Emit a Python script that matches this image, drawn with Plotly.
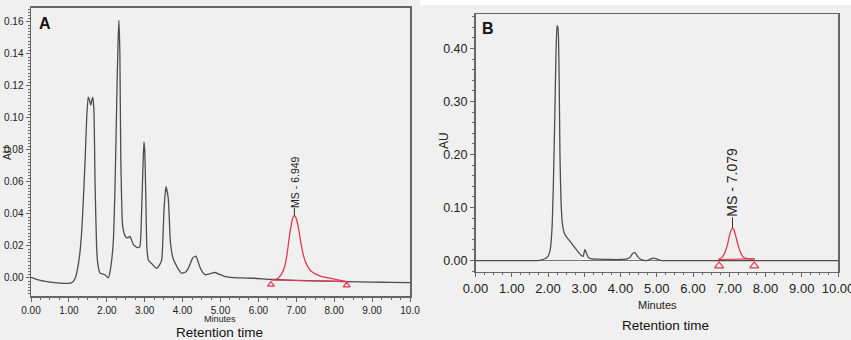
import plotly.graph_objects as go

W, H = 851, 340

# ---------------- Panel A data ----------------
a_time = [0.0, 0.25, 0.5, 0.75, 1.0, 1.1, 1.17, 1.23, 1.29, 1.34,
          1.38, 1.43, 1.47, 1.51, 1.545, 1.575, 1.605, 1.63, 1.66, 1.69,
          1.73, 1.76, 1.82, 1.95, 2.04, 2.1, 2.17, 2.22, 2.27, 2.3,
          2.32, 2.345, 2.37, 2.42, 2.49, 2.55, 2.61, 2.7, 2.8, 2.87,
          2.92, 2.96, 2.98, 3.0, 3.03, 3.06, 3.1, 3.2, 3.31, 3.4,
          3.45, 3.51, 3.56, 3.62, 3.68, 3.75, 3.8, 3.9, 3.97, 4.07,
          4.15, 4.27, 4.35, 4.45, 4.53, 4.6, 4.7, 4.77, 4.86, 4.99,
          5.1, 5.25, 5.6, 5.87, 6.35, 7.0, 7.5, 8.33, 9.0, 9.5,
          10.0]
a_au = [0.0004, -0.0016, -0.0026, -0.0032, -0.0034, -0.0025, 0.0, 0.006, 0.0157, 0.03,
        0.048, 0.075, 0.1, 0.113, 0.111, 0.108, 0.111, 0.113, 0.105, 0.06,
        0.02, 0.0094, 0.003, 0.002, 0.0, 0.006, 0.022, 0.06, 0.12, 0.15,
        0.161, 0.14, 0.074, 0.032, 0.026, 0.025, 0.026, 0.021, 0.019, 0.0196,
        0.043, 0.074, 0.085, 0.08, 0.05, 0.018, 0.011, 0.0085, 0.006, 0.0085,
        0.0115, 0.043, 0.057, 0.05, 0.022, 0.012, 0.0094, 0.005, 0.003, 0.0035,
        0.006, 0.0126, 0.0136, 0.0072, 0.0035, 0.002, 0.0025, 0.003, 0.0034, 0.002,
        0.001, 0.0004, 0.0, -0.0002, -0.001, -0.0015, -0.0018, -0.0023, -0.0026, -0.0028,
        -0.003]

a_ms_time = [6.35, 6.5, 6.6, 6.68, 6.75, 6.83, 6.9, 6.95, 7.0, 7.06,
             7.12, 7.2, 7.28, 7.38, 7.5, 7.65, 7.85, 8.1, 8.33]
a_ms_au = [-0.0012, -0.0005, 0.002, 0.006, 0.014, 0.028, 0.037, 0.039, 0.037, 0.031,
           0.022, 0.013, 0.008, 0.0045, 0.0025, 0.001, 0.0, -0.0012, -0.0023]
a_base_time = [6.35, 8.33]
a_base_au = [-0.0013, -0.0023]
a_mark_time = [6.33, 8.33]
a_mark_au = [-0.0042, -0.0046]
a_peak = (6.95, 0.039, "MS - 6.949")

a_xticks = [0, 1, 2, 3, 4, 5, 6, 7, 8, 9, 10]
a_xlabels = ["0.00", "1.00", "2.00", "3.00", "4.00", "5.00", "6.00", "7.00", "8.00", "9.00", "10.0"]
a_yticks = [0.0, 0.02, 0.04, 0.06, 0.08, 0.10, 0.12, 0.14, 0.16]
a_ylabels = ["0.00", "0.02", "0.04", "0.06", "0.08", "0.10", "0.12", "0.14", "0.16"]

# ---------------- Panel B data ----------------
b_time = [0.0, 1.0, 1.6, 1.8, 1.9, 2.0, 2.06, 2.11, 2.15, 2.19,
          2.22, 2.25, 2.27, 2.29, 2.31, 2.33, 2.36, 2.4, 2.46, 2.53,
          2.6, 2.7, 2.79, 2.87, 2.93, 2.97, 3.02, 3.06, 3.11, 3.2,
          3.34, 3.7, 4.0, 4.18, 4.26, 4.33, 4.4, 4.47, 4.54, 4.63,
          4.72, 4.8, 4.9, 5.0, 5.13, 5.5, 6.0, 7.0, 8.0, 9.0,
          10.0]
b_au = [0.0, 0.0, 0.0, 0.001, 0.003, 0.008, 0.02, 0.06, 0.15, 0.28,
        0.39, 0.443, 0.44, 0.42, 0.33, 0.2, 0.11, 0.068, 0.05, 0.043,
        0.037, 0.028, 0.02, 0.013, 0.009, 0.008, 0.021, 0.014, 0.006, 0.003,
        0.0026, 0.002, 0.002, 0.003, 0.006, 0.013, 0.015, 0.008, 0.003, 0.001,
        0.0, 0.002, 0.0045, 0.003, 0.0, 0.0, 0.0, 0.0, 0.0, 0.0,
        0.0]

b_ms_time = [6.7, 6.8, 6.88, 6.95, 7.0, 7.05, 7.09, 7.13, 7.18, 7.24,
             7.3, 7.38, 7.45, 7.55, 7.7]
b_ms_au = [0.002, 0.006, 0.015, 0.03, 0.045, 0.057, 0.061, 0.058, 0.046, 0.03,
           0.017, 0.007, 0.004, 0.003, 0.003]
b_base_time = [6.7, 7.7]
b_base_au = [0.002, 0.003]
b_mark_time = [6.72, 7.69]
b_mark_au = [-0.010, -0.010]
b_peak = (7.09, 0.061, "MS - 7.079")

b_xticks = [0, 1, 2, 3, 4, 5, 6, 7, 8, 9, 10]
b_xlabels = ["0.00", "1.00", "2.00", "3.00", "4.00", "5.00", "6.00", "7.00", "8.00", "9.00", "10.00"]
b_yticks = [0.0, 0.1, 0.2, 0.3, 0.4]
b_ylabels = ["0.00", "0.10", "0.20", "0.30", "0.40"]

# ---------------- styles ----------------
GRAY = "#4d4d4d"
RED = "#e2384f"
FRAME = "#666666"
BG = "#f0f0f0"
TXT = "#222222"
NARROW = "Liberation Sans Narrow, Arial Narrow, Liberation Sans, Arial, sans-serif"
SANS = "Liberation Sans, Arial, sans-serif"


def px(x):
    return x / W


def py(y):
    return 1 - y / H


fig = go.Figure()

for xa, ya, t, v, mt, mv, bt, bv, kt, kv, msize in [
    ("x", "y", a_time, a_au, a_ms_time, a_ms_au, a_base_time, a_base_au, a_mark_time, a_mark_au, 6),
    ("x2", "y2", b_time, b_au, b_ms_time, b_ms_au, b_base_time, b_base_au, b_mark_time, b_mark_au, 8),
]:
    fig.add_trace(go.Scatter(x=t, y=v, mode="lines", xaxis=xa, yaxis=ya,
                             line=dict(color=GRAY, width=1.3, shape="spline", smoothing=0.5),
                             hoverinfo="skip", showlegend=False))
    fig.add_trace(go.Scatter(x=bt, y=bv, mode="lines", xaxis=xa, yaxis=ya,
                             line=dict(color=RED, width=1.2), hoverinfo="skip", showlegend=False))
    fig.add_trace(go.Scatter(x=mt, y=mv, mode="lines", xaxis=xa, yaxis=ya,
                             line=dict(color=RED, width=1.3, shape="spline", smoothing=0.5),
                             hoverinfo="skip", showlegend=False))
    fig.add_trace(go.Scatter(x=kt, y=kv, mode="markers", xaxis=xa, yaxis=ya,
                             marker=dict(symbol="triangle-up-open", size=msize,
                                         color=RED, line=dict(color=RED, width=1.2)),
                             hoverinfo="skip", showlegend=False))

common_axis = dict(showline=True, mirror=True, linecolor=FRAME, linewidth=1.5,
                   showgrid=False, zeroline=False, ticks="outside", automargin=False,
                   tickcolor=FRAME, ticklen=4, tickwidth=1, ticklabeloverflow="allow")

fig.update_layout(
    template="none",
    width=W, height=H,
    margin=dict(l=0, r=0, t=0, b=0, pad=0),
    paper_bgcolor=BG, plot_bgcolor=BG,
    showlegend=False,
    xaxis=dict(**common_axis, domain=[px(31), px(410)], range=[0, 10], anchor="y",
               tickmode="array", tickvals=a_xticks, ticktext=a_xlabels,
               tickfont=dict(family=NARROW, size=10, color=TXT),
               minor=dict(ticks="outside", ticklen=2, dtick=0.25, tick0=0, tickcolor=FRAME)),
    yaxis=dict(**common_axis, domain=[py(296), py(7.5)], range=[-0.0113, 0.169], anchor="x",
               tickmode="array", tickvals=a_yticks, ticktext=a_ylabels,
               tickfont=dict(family=NARROW, size=10, color=TXT),
               minor=dict(ticks="outside", ticklen=2, dtick=0.002, tick0=0, tickcolor=FRAME)),
    xaxis2=dict(**common_axis, domain=[px(475.5), px(838)], range=[0, 10], anchor="y2",
                tickmode="array", tickvals=b_xticks, ticktext=b_xlabels,
                tickfont=dict(family=NARROW, size=13, color=TXT),
                minor=dict(ticks="outside", ticklen=2, dtick=0.25, tick0=0, tickcolor=FRAME)),
    yaxis2=dict(**{**common_axis, "zeroline": True}, zerolinecolor="#777777", zerolinewidth=1.5,
                domain=[py(271.7), py(14)], range=[-0.021, 0.465], anchor="x2",
                tickmode="array", tickvals=b_yticks, ticktext=b_ylabels,
                tickfont=dict(family=SANS, size=12.5, color=TXT),
                minor=dict(ticks="outside", ticklen=2, dtick=0.02, tick0=0, tickcolor=FRAME)),
)

# white strip at top of panel B picture
fig.add_shape(type="rect", xref="paper", yref="paper", x0=px(420), x1=1, y0=py(5), y1=1,
              fillcolor="white", line=dict(width=0), layer="below")

ann = []
# peak labels with leader line
for xr, yr, (pt, pv, label), fsize, off in [("x", "y", a_peak, 10.5, -34),
                                             ("x2", "y2", b_peak, 14, -46)]:
    ann.append(dict(x=pt, y=pv, xref=xr, yref=yr, text=label, textangle=-90,
                    showarrow=True, arrowhead=0, arrowwidth=1, arrowcolor="#333333",
                    ax=0, ay=off, standoff=0, startstandoff=0, borderpad=0,
                    font=dict(family=SANS, size=fsize, color=TXT)))


def label(x, y, text, size, family=SANS, color=TXT, angle=0):
    return dict(x=px(x), y=py(y), xref="paper", yref="paper", text=text,
                textangle=angle, showarrow=False, xanchor="center", yanchor="middle",
                borderpad=0, font=dict(family=family, size=size, color=color))


# panel letters
ann.append(label(44.5, 23.5, "<b>A</b>", 16, color="#111111"))
ann.append(label(488, 28, "<b>B</b>", 16, color="#111111"))
# AU labels
ann.append(label(8, 153, "AU", 10, family=NARROW, angle=-90))
ann.append(label(444, 141, "AU", 12, angle=-90))
# Minutes
ann.append(label(220, 319, "Minutes", 9, family=NARROW))
ann.append(label(657, 305, "Minutes", 11, family=NARROW))
# Retention time
ann.append(label(220, 332, "Retention time", 13.5, color="#111111"))
ann.append(label(665, 325, "Retention time", 13.5, color="#111111"))

fig.update_layout(annotations=ann)

fig.write_html("out.html", config={"displayModeBar": False, "staticPlot": True},
               post_script="document.body.style.margin='0';document.body.style.background='#f0f0f0';")
